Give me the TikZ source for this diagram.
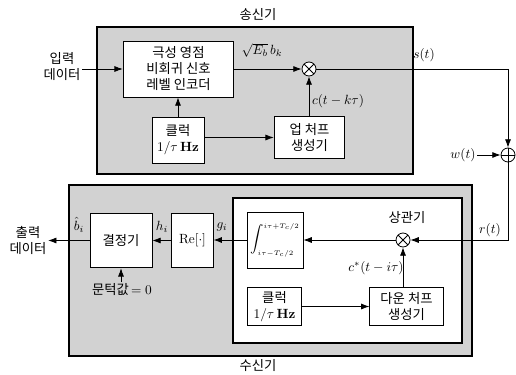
\documentclass[tikz,border=0pt]{standalone}
\usepackage{fontspec}
\newfontfamily\kr{Noto Sans CJK KR}
\usetikzlibrary{arrows.meta, positioning, calc}
\definecolor{cshade}{HTML}{D2D2D2}
\tikzset{
  every picture/.style={font=\kr, line width=0.6pt},
  blk/.style={draw, fill=white, align=center, inner sep=2pt},
  mix/.style={draw, circle, fill=white, minimum size=10.5pt, inner sep=0pt},
  arrow/.style={-{Latex[length=2.2mm, width=1.6mm]}},
  panel/.style={draw, line width=0.9pt, fill=cshade},
  lbl/.style={inner sep=1pt, align=center},
}

\begin{document}
\begin{tikzpicture}[x=0.75pt, y=-0.75pt,
  mult/.style={mix, path picture={\draw (path picture bounding box.north west) -- (path picture bounding box.south east)
    (path picture bounding box.south west) -- (path picture bounding box.north east);}},
  adder/.style={mix, path picture={\draw (path picture bounding box.north) -- (path picture bounding box.south)
    (path picture bounding box.west) -- (path picture bounding box.east);}}]
  \useasboundingbox (0,0) rectangle (516,374);
  % panels
  \draw[panel] (97,27) rectangle (413,174);
  \draw[panel] (69,185) rectangle (472,356);
  \draw[fill=white, line width=0.9pt] (233,198) rectangle (462,343);
  \node[lbl] (txl) at (258,15) {송신기};
  \node[lbl] (rxl) at (258,366) {수신기};
  \node[lbl] (cor) at (407,218) {상관기};
  % transmitter
  \node[blk, minimum width=83pt, minimum height=42pt] (enc) at (178.5,69) {극성 영점\\비회귀 신호\\레벨 인코더};
  \node[blk, minimum width=39pt, minimum height=34.5pt] (clk) at (178,140) {클럭\\$1/\tau\,${\rmfamily\bfseries Hz}};
  \node[mult] (mx) at (309,69) {};
  \node[blk, minimum width=53pt, minimum height=31pt] (up) at (309.5,137.5) {업 처프\\생성기};
  \node[lbl] (din) at (62,67) {입력\\데이터};
  \node[adder] (sum) at (508,155) {};
  \node[lbl] (win) at (463,155) {$w(t)$};
  % receiver
  \node[blk, minimum width=42pt, minimum height=42pt] (intg) at (275,240) {\scriptsize$\displaystyle\int_{i\tau-T_c/2}^{i\tau+T_c/2}$};
  \node[mult] (mr) at (403,240) {};
  \node[blk, minimum width=41pt, minimum height=28pt] (clk2) at (274.5,306.5) {클럭\\$1/\tau\,${\rmfamily\bfseries Hz}};
  \node[blk, minimum width=55pt, minimum height=28pt] (dn) at (406.5,306.5) {다운 처프\\생성기};
  \node[blk, minimum width=31pt, minimum height=41pt] (re) at (192.5,240.5) {$\mathrm{Re}[\cdot]$};
  \node[blk, minimum width=46.5pt, minimum height=41pt] (dec) at (121,240.5) {결정기};
  \node[lbl] (dout) at (28,240) {출력\\데이터};
  \node[lbl] (thr) at (122,290) {문턱값\,$=0$};
  % signal labels
  \node[lbl] (eb) at (262,50) {$\sqrt{E_b}\,b_k$};
  \node[lbl] (ct) at (338,101) {$c(t-k\tau)$};
  \node[lbl] (st) at (424,55) {$s(t)$};
  \node[lbl] (rt) at (490,230) {$r(t)$};
  \node[lbl] (cc) at (376,268) {$c^{*}(t-i\tau)$};
  \node[lbl] (gi) at (222,227) {$g_i$};
  \node[lbl] (hi) at (162,227) {$h_i$};
  \node[lbl] (bh) at (79,225) {$\hat{b}_i$};
  % connectors
  \draw[arrow] (din.east |- enc.west) -- (enc.west);
  \draw[arrow] (enc.east) -- (mx.west);
  \draw[arrow] (clk.north) -- (enc.south -| clk.north);
  \draw[arrow] (clk.east |- up.west) -- (up.west);
  \draw[arrow] (up.north -| mx.south) -- (mx.south);
  \draw[arrow] (mx.east) -| (sum.north);
  \draw[arrow] (win.east) -- (sum.west);
  \draw[arrow] (sum.south) |- (mr.east);
  \draw[arrow] (mr.west) -- (intg.east |- mr.west);
  \draw[arrow] (mr |- dn.north) -- (mr.south);
  \draw[arrow] (clk2.east) -- (dn.west |- clk2.east);
  \draw[arrow] (intg.west) -- (re.east |- intg.west);
  \draw[arrow] (re.west) -- (dec.east |- re.west);
  \draw[arrow] (dec.west) -- (dout.east |- dec.west);
  \draw[arrow] (dec.south |- thr.north) -- (dec.south);
\end{tikzpicture}
\end{document}
